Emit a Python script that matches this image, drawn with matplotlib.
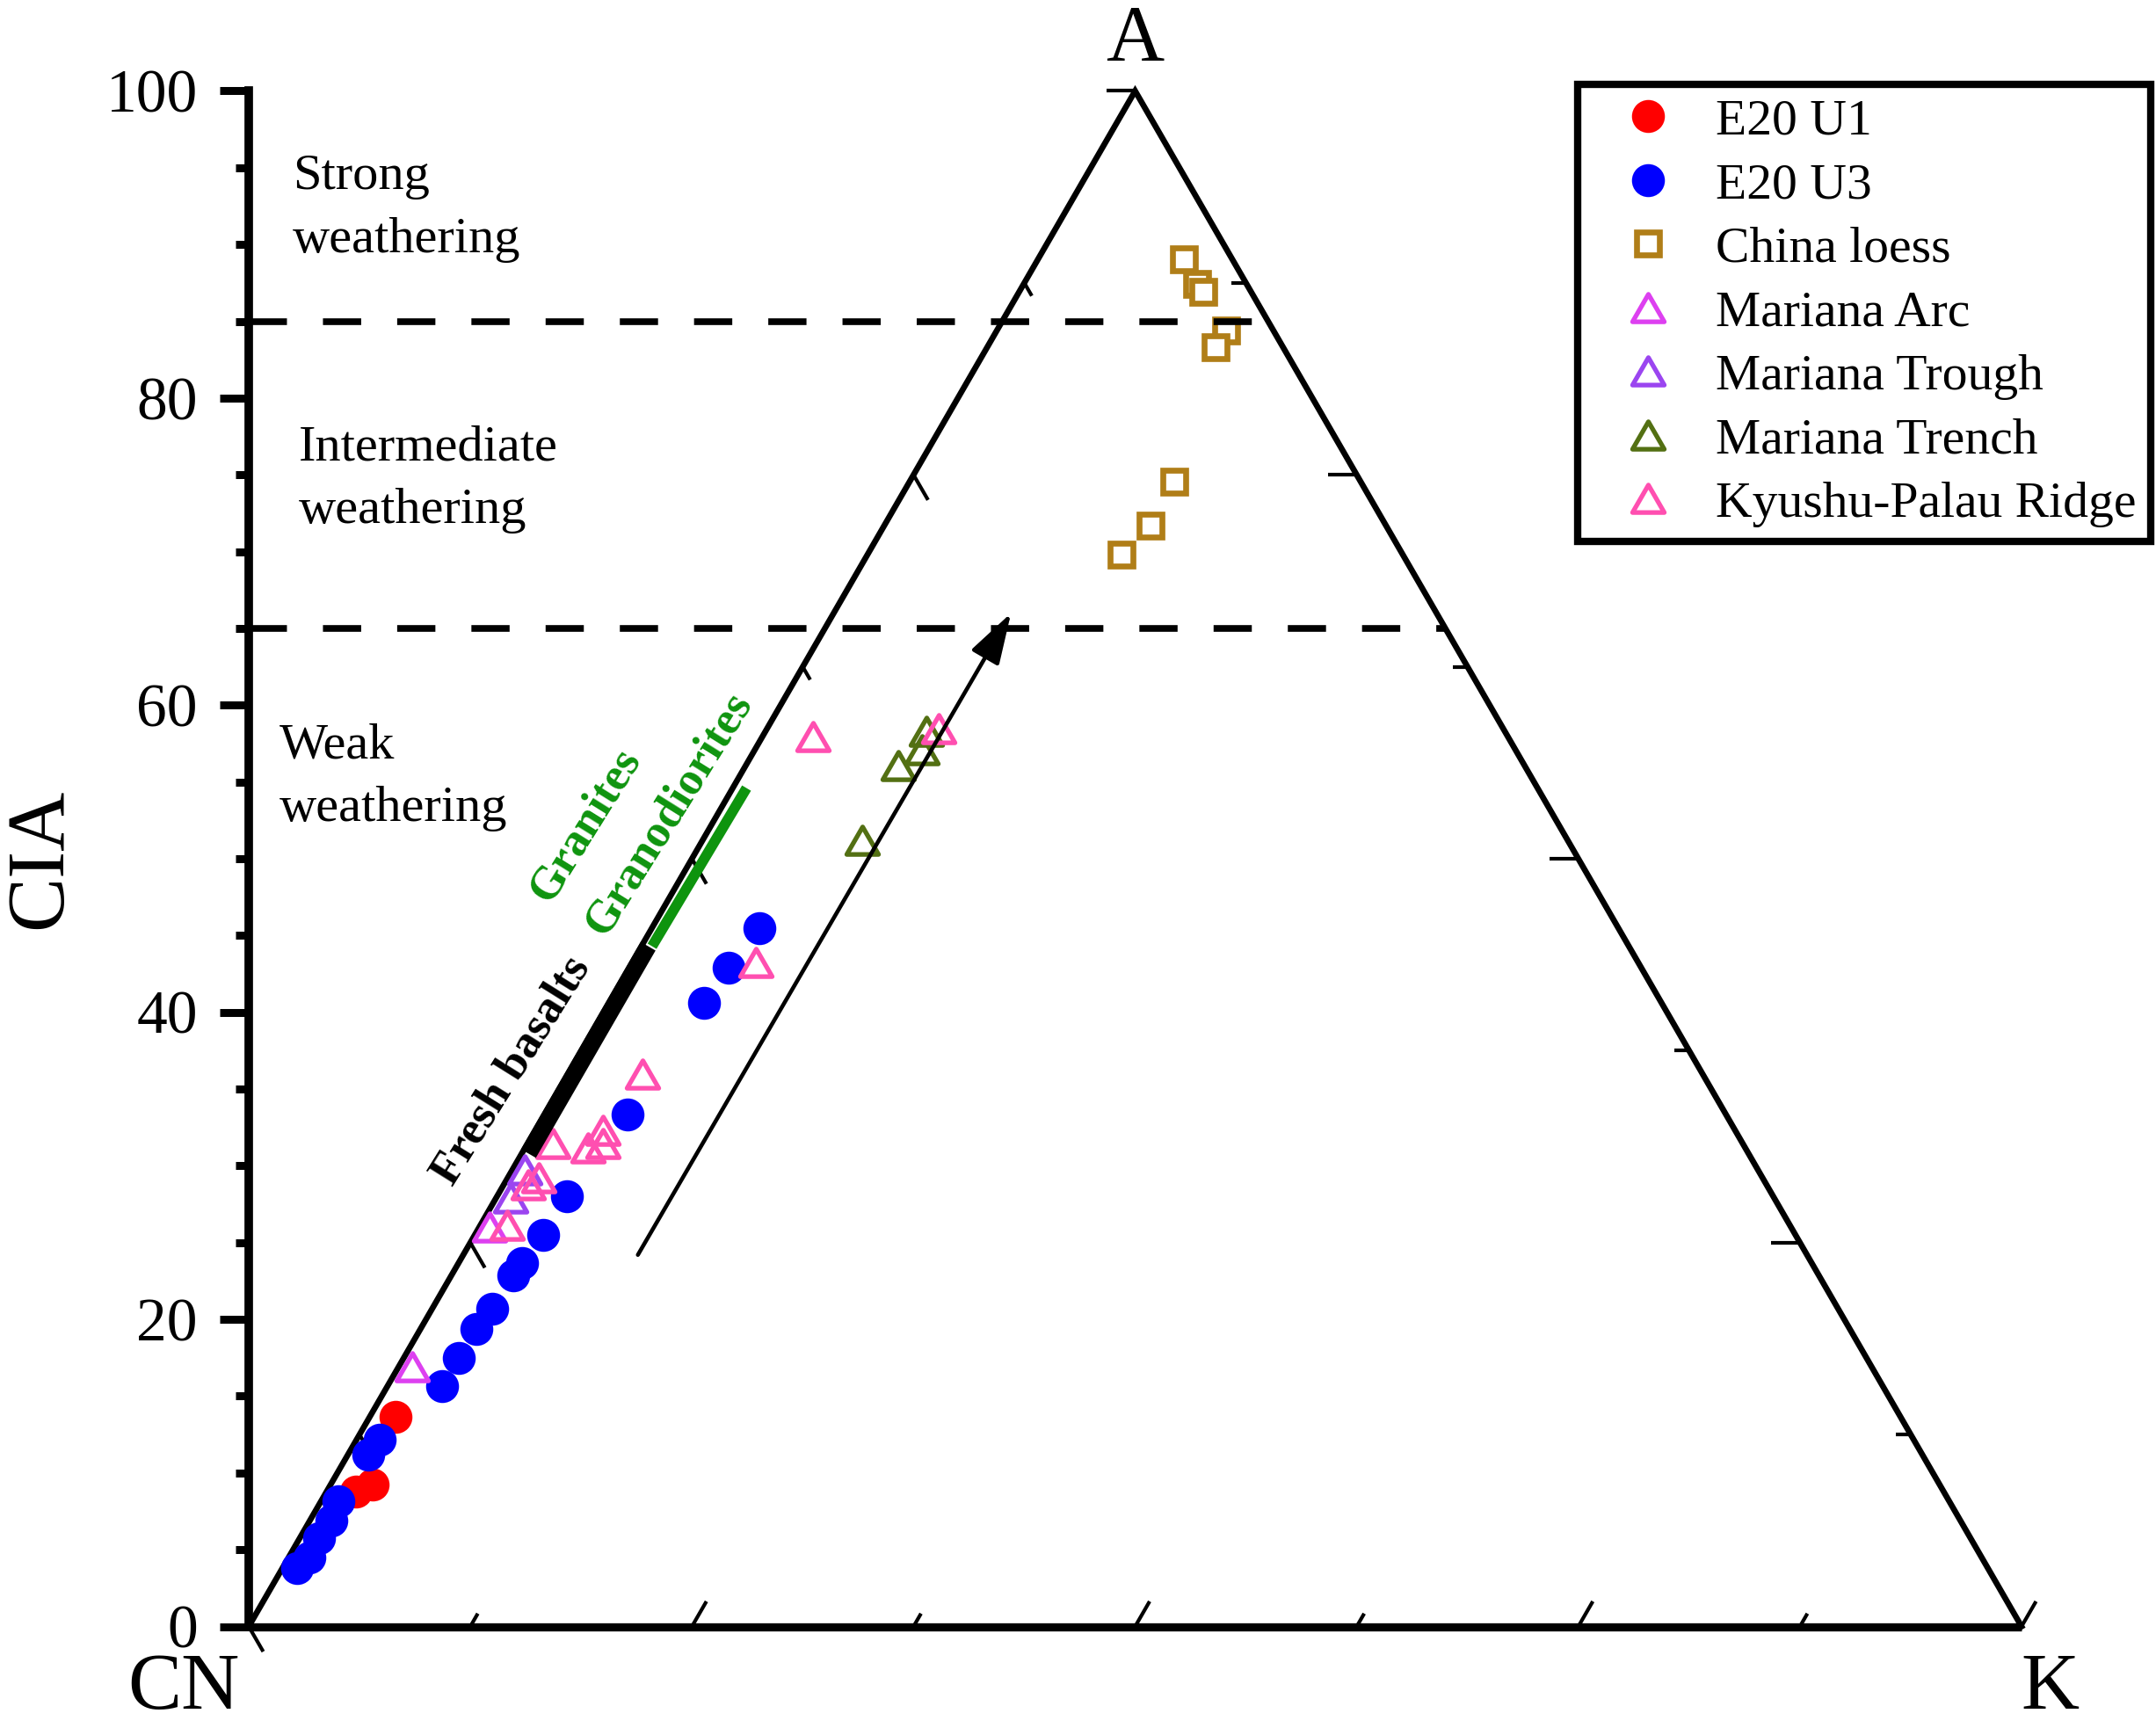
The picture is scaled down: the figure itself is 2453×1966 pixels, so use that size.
import numpy as np
import matplotlib
matplotlib.use('Agg')
import matplotlib.pyplot as plt
from matplotlib.path import Path
from matplotlib.ticker import MultipleLocator

plt.rcParams['font.family'] = ['Liberation Serif', 'DejaVu Serif']
plt.rcParams['lines.scale_dashes'] = False

# ---- data: CIA (= A %) and K % of each sample (CN = 100 - A - K) ----
u1_A = [13.63, 9.27, 8.79]
u1_K = [1.45, 2.34, 1.67]
u3_A = [45.48, 42.91, 40.61, 33.36, 28.01, 25.52, 23.66, 22.84, 20.68, 19.40,
        17.49, 15.67, 12.14, 11.18, 8.13, 6.88, 5.73, 4.49, 3.82]
u3_K = [6.06, 5.63, 5.37, 4.71, 3.93, 3.86, 3.59, 3.48, 3.39, 3.16,
        3.12, 3.08, 1.32, 1.14, 1.00, 1.22, 1.12, 1.17, 0.84]
loess_A = [89.03, 87.44, 86.93, 84.39, 83.30, 74.54, 71.67, 69.82]
loess_K = [8.23, 9.77, 10.37, 12.94, 12.87, 14.93, 15.04, 14.31]
arc_A = [16.92, 25.99]
arc_K = [0.75, 0.60]
trough_A = [29.72, 27.91]
trough_K = [0.73, 0.81]
trench_A = [51.20, 56.08, 57.11, 58.30]
trench_K = [9.01, 8.59, 9.43, 9.06]
kpr_A = [35.96, 31.44, 32.30, 31.44, 31.15, 28.77, 29.24, 26.15, 57.94, 43.22, 58.45]
kpr_K = [4.24, 1.44, 3.83, 4.26, 3.57, 1.37, 1.72, 1.52, 2.86, 6.99, 9.70]

# reference bars and trend arrow (A %, K %)
basalt_A = [30.8, 44.3]
basalt_K = [0.38, 0.38]
granite_A = [44.3, 54.6]
granite_K = [0.60, 0.78]
arrow_A = [24.2, 66.0]
arrow_K = [9.85, 10.0]
cia_bounds = [65, 85]
yticks = [0, 20, 40, 60, 80, 100]

legend_labels = ['E20 U1', 'E20 U3', 'China loess', 'Mariana Arc',
                 'Mariana Trough', 'Mariana Trench', 'Kyushu-Palau Ridge']


def tern(A, K):
    A = np.asarray(A, float)
    K = np.asarray(K, float)
    return K + A / 2.0, A


W, H = 2453, 1966
fig = plt.figure(figsize=(W / 100, H / 100), dpi=100)
ax = fig.add_axes([283 / W, (H - 1850.5) / H, 2017 / W, 1747 / H])
ax.set_xlim(0, 100)
ax.set_ylim(0, 100)
for s in ['top', 'right', 'bottom']:
    ax.spines[s].set_visible(False)
ax.spines['left'].set_linewidth(7)
ax.tick_params(axis='x', bottom=False, labelbottom=False)
ax.yaxis.set_major_locator(MultipleLocator(20))
ax.yaxis.set_minor_locator(MultipleLocator(5))
ax.set_yticks(yticks)
ax.tick_params(axis='y', which='major', direction='out', length=24, width=6.5,
               labelsize=50, pad=18)
ax.tick_params(axis='y', which='minor', direction='out', length=11, width=6.5)
ax.set_ylabel('CIA', fontsize=67, va='center')
ax.yaxis.set_label_coords(-0.117, 0.5)

# ---- triangle frame ----
ax.plot([0, 50, 100], [0, 100, 0], color='k', lw=4.8, solid_joinstyle='miter',
        clip_on=False, zorder=2)
ax.plot([0, 100], [0, 0], color='k', lw=6.7, solid_capstyle='butt', clip_on=False, zorder=2)

# ---- ternary edge ticks ----
px_x = 2017 / 100.0
px_y = 1747 / 100.0
for v in np.arange(0, 100.01, 12.5):
    L = 33 if abs(v % 25) < 1e-9 else 17
    # left edge (K = 0), tick parallel to A->K
    x0, y0 = v / 2.0, v
    ax.plot([x0, x0 + L * 0.5 / px_x], [y0, y0 - L * 0.866 / px_y], color='k', lw=3,
            clip_on=False, zorder=2, solid_capstyle='butt')
    # right edge (CN = 0), tick horizontal towards CN
    x0, y0 = 100 - v / 2.0, v
    ax.plot([x0, x0 - L / px_x], [y0, y0], color='k', lw=3, clip_on=False, zorder=2,
            solid_capstyle='butt')
    # bottom edge (A = 0), tick parallel to CN->A
    x0, y0 = v, 0
    ax.plot([x0, x0 + L * 0.5 / px_x], [y0, y0 + L * 0.866 / px_y], color='k', lw=3,
            clip_on=False, zorder=2, solid_capstyle='butt')

# ---- markers ----
tri = Path([(0, 0.5), (-0.57735, -0.5), (0.57735, -0.5), (0, 0.5)],
           [Path.MOVETO, Path.LINETO, Path.LINETO, Path.CLOSEPOLY])
handles = []
x, y = tern(u1_A, u1_K)
handles += ax.plot(x, y, ls='none', marker='o', ms=27, mew=0, color='#ff0000',
                   clip_on=False, zorder=3)
x, y = tern(u3_A, u3_K)
handles += ax.plot(x, y, ls='none', marker='o', ms=27, mew=0, color='#0000ff',
                   clip_on=False, zorder=3)
x, y = tern(loess_A, loess_K)
handles += ax.plot(x, y, ls='none', marker='s', ms=18.5, mew=4.8, mfc='white',
                   mec='#b07e18', clip_on=False, zorder=3)
for A_, K_, col in [(arc_A, arc_K, '#dd40f0'), (trough_A, trough_K, '#9b45f0'),
                    (trench_A, trench_K, '#537013'), (kpr_A, kpr_K, '#ff4fb0')]:
    x, y = tern(A_, K_)
    handles += ax.plot(x, y, ls='none', marker=tri, ms=26, mew=3.8, mfc='none',
                       mec=col, clip_on=False, zorder=3)

# ---- reference bars ----
x, y = tern(basalt_A, basalt_K)
ax.plot(x, y, color='k', lw=14, solid_capstyle='butt', zorder=4, clip_on=False)
x, y = tern(granite_A, granite_K)
ax.plot(x, y, color='#0e940e', lw=8.5, solid_capstyle='butt', zorder=4, clip_on=False)

# ---- CIA boundaries ----
for b in cia_bounds:
    ax.plot([0, 100 - b / 2.0], [b, b], color='k', lw=5.5, dashes=(31.3, 29.5),
            dash_capstyle='butt', zorder=5, clip_on=False)

# ---- arrow ----
x, y = tern(arrow_A, arrow_K)
ax.annotate('', xy=(x[1], y[1]), xytext=(x[0], y[0]),
            arrowprops=dict(arrowstyle='-|>,head_length=0.55,head_width=0.17',
                            mutation_scale=65, lw=3.3, color='k',
                            shrinkA=0, shrinkB=0),
            annotation_clip=False, zorder=5)

# ---- texts ----
ax.text(50, 102.0, 'A', fontsize=66, ha='center', va='baseline')
ax.text(-3.67, -5.35, 'CN', fontsize=66, ha='center', va='baseline')
ax.text(101.6, -5.35, 'K', fontsize=66, ha='center', va='baseline')

tfs = 42
ax.text(2.48, 93.62, 'Strong', fontsize=tfs, ha='left', va='baseline')
ax.text(2.48, 89.51, 'weathering', fontsize=tfs, ha='left', va='baseline')
ax.text(2.83, 75.98, 'Intermediate', fontsize=tfs, ha='left', va='baseline')
ax.text(2.83, 71.88, 'weathering', fontsize=tfs, ha='left', va='baseline')
ax.text(1.73, 56.55, 'Weak', fontsize=tfs, ha='left', va='baseline')
ax.text(1.73, 52.45, 'weathering', fontsize=tfs, ha='left', va='baseline')

ax.text(14.81, 36.18, 'Fresh basalts', fontsize=38, fontweight='bold', color='k',
        rotation=58, rotation_mode='anchor', ha='center', va='center')
ax.text(23.70, 52.92, 'Granodiorites', fontsize=38, fontweight='bold', color='#0e940e',
        rotation=58, rotation_mode='anchor', ha='center', va='center')
ax.text(18.97, 52.19, 'Granites', fontsize=38, fontweight='bold', color='#0e940e',
        rotation=58, rotation_mode='anchor', ha='center', va='center')

# ---- legend ----
leg = ax.legend(handles, legend_labels, loc='upper left',
                bbox_to_anchor=(1795 / W, 1 - 96 / H), bbox_transform=fig.transFigure,
                fontsize=41.5, frameon=True, fancybox=False, edgecolor='k', framealpha=1,
                borderpad=0.28, labelspacing=0.35, handlelength=2.2, handletextpad=0.25,
                borderaxespad=0, numpoints=1)
leg.get_frame().set_linewidth(6)
leg.set_zorder(10)

fig.savefig('out.png', dpi=100, facecolor='white')
